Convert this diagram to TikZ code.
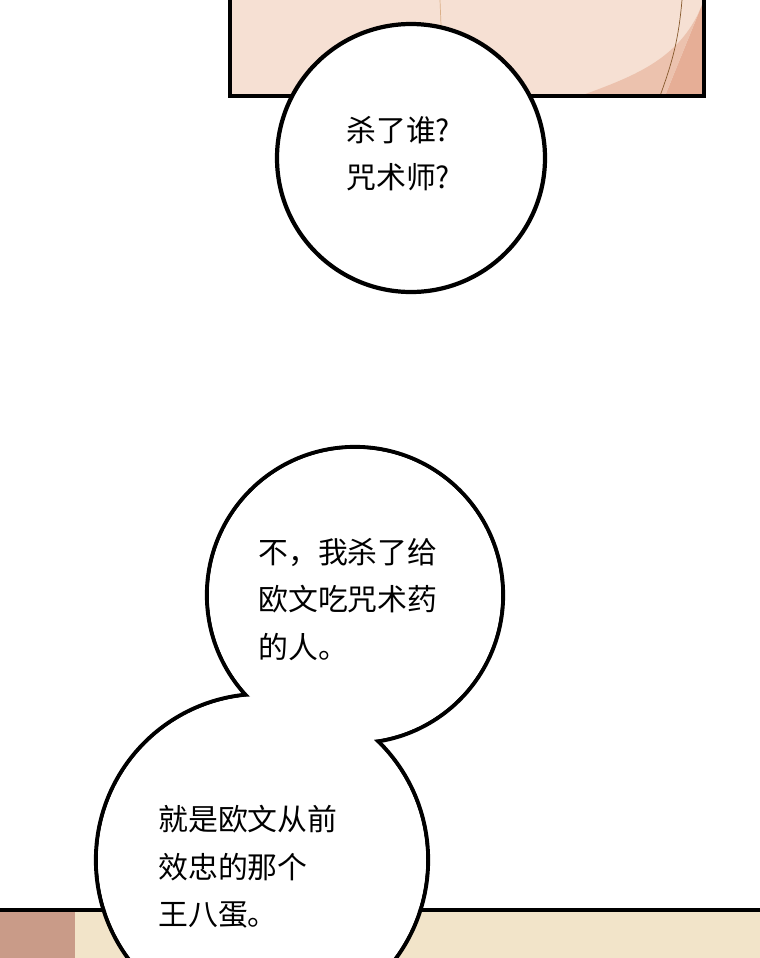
\documentclass[tikz,border=0pt]{standalone}
\usepackage{fontspec}
\newfontfamily\cjk{Noto Sans CJK SC}
\definecolor{skin}{HTML}{F6E0D3}
\definecolor{skindark}{HTML}{E6AE96}
\definecolor{sand}{HTML}{F2E4C9}
\definecolor{rust}{HTML}{C99B88}

\begin{document}
\begin{tikzpicture}[x=0.02cm, y=-0.02cm,
    bubbleline/.style={line width=2.4pt},
    speech/.style={font=\cjk\fontsize{17}{27}\selectfont, align=left, anchor=north west, inner sep=0pt}]

    \useasboundingbox (0,0) rectangle (760,958);
    
    % top panel
    \fill[skin] (230,0) rectangle (704,96);
    \fill[skindark] (704,0) -- (665,96) -- (704,96) -- cycle;
    \fill[skindark!60!skin] (704,0) to [out=250,in=20] (580,96) -- (665,96) -- cycle;
    \draw[thin, brown!70!black] (682,0) to [out=265,in=70] (660,96);
    \draw[thin, brown!50!skin] (440,0) -- (441,25);
    \draw[bubbleline] (230,-5) -- (230,96) -- (704,96) -- (704,-5);
    
    % bottom panel
    \fill[sand] (0,910) rectangle (760,958);
    \fill[rust] (0,910) rectangle (75,958);
    \draw[bubbleline] (0,910) -- (760,910);
    
    % bubbles
    \draw[bubbleline, fill=white] (411,158) circle [radius=134];
    \draw[bubbleline] (355,595) circle [radius=148];
    \draw[bubbleline] (262,860) circle [radius=166];
    \fill[white] (355,595) circle [radius=146];
    \fill[white] (262,860) circle [radius=164];
    
    \node[speech] (who) at (346,116) {杀了谁?\\咒术师?};
    \node[speech] (no) at (258,538) {不，我杀了给\\欧文吃咒术药\\的人。};
    \node[speech] (jerk) at (158,805) {就是欧文从前\\效忠的那个\\王八蛋。};
    
\end{tikzpicture}
\end{document}
